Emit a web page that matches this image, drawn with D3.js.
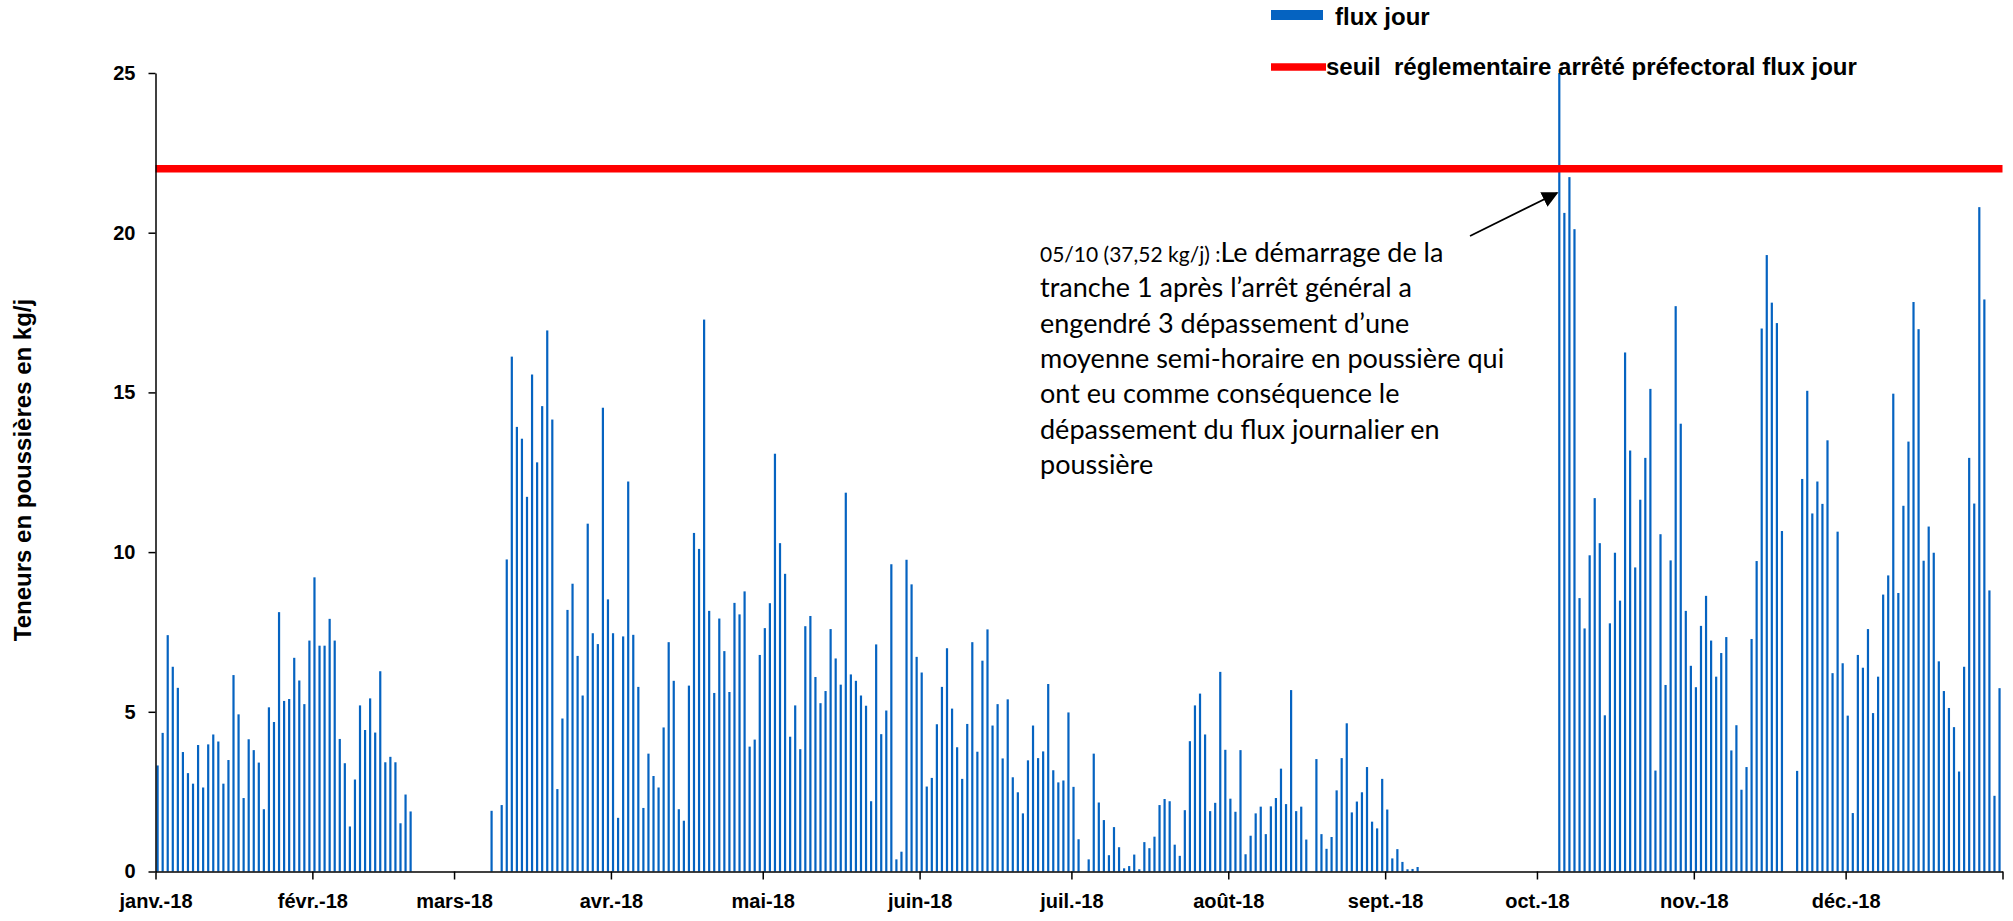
<!DOCTYPE html>
<html>
<head>
<meta charset="utf-8">
<script src="https://cdn.jsdelivr.net/npm/d3@7/dist/d3.min.js"></script>
<style>
  body { margin: 0; background: #fff; }
  .axis text { font-family: "Liberation Sans", Arial, sans-serif; font-weight: bold; font-size: 20px; fill: #000; }
  .axis path, .axis line { stroke: #000; stroke-width: 1.5px; }
</style>
</head>
<body>
<svg id="chart"></svg>
<script>
// daily dust flux (kg/j), one array per month, null = no value
var jan = [3.32,4.34,7.40,6.41,5.75,3.74,3.08,2.75,3.96,2.63,3.98,4.29,4.07,2.75,3.49,6.15,4.92,2.30,4.14,3.80,3.41,1.95,5.14,4.68,8.12,5.34,5.40,6.69,5.98,5.24,7.23];
var feb = [9.21,7.07,7.07,7.91,7.23,4.15,3.39,1.41,2.88,5.20,4.43,5.42,4.35,6.27,3.42,3.59,3.42,1.51,2.41,1.88,null,null,null,null,null,null,null,null];
var mar = [null,null,null,null,null,null,null,1.90,null,2.08,9.77,16.12,13.92,13.55,11.73,15.56,12.81,14.57,16.94,14.15,2.58,4.79,8.19,9.01,6.75,5.51,10.89,7.46,7.12,14.52,8.52];
var apr = [7.46,1.68,7.36,12.21,7.41,5.78,1.99,3.69,2.99,2.63,4.51,7.18,5.97,1.95,1.59,5.82,10.60,10.10,17.28,8.16,5.59,7.92,6.90,5.62,8.41,8.05,8.77,3.91,4.13,6.78];
var may = [7.62,8.40,13.08,10.28,9.32,4.22,5.20,3.83,7.68,8.00,6.09,5.27,5.65,7.59,6.67,5.85,11.86,6.17,5.97,5.51,5.19,2.20,7.11,4.30,5.04,9.62,0.38,0.62,9.76,8.99,6.72];
var jun = [6.23,2.66,2.93,4.61,5.78,6.99,5.10,3.89,2.90,4.62,7.18,3.75,6.60,7.58,4.57,5.24,3.54,5.39,2.95,2.48,1.82,3.48,4.57,3.55,3.76,5.87,3.17,2.79,2.85,4.98];
var jul = [2.65,1.01,null,0.38,3.69,2.16,1.61,0.51,1.39,0.76,0.10,0.17,0.53,0.07,0.92,0.73,1.09,2.08,2.27,2.20,0.84,0.49,1.92,4.08,5.20,5.57,4.29,1.89,2.15,6.25,3.81];
var aug = [2.28,1.87,3.80,0.54,1.12,1.82,2.03,1.17,2.04,2.30,3.22,2.11,5.68,1.89,2.03,1.00,null,3.52,1.17,0.71,1.08,2.54,3.55,4.64,1.85,2.19,2.48,3.27,1.56,1.35,2.90];
var sep = [1.94,0.41,0.70,0.30,0.07,0.08,0.14,null,null,null,null,null,null,null,null,null,null,null,null,null,null,null,null,null,null,null,null,null,null,null];
var oct = [null,null,null,null,37.52,20.62,21.74,20.11,8.56,7.61,9.90,11.69,10.28,4.89,7.77,9.98,8.48,16.25,13.18,9.52,11.64,12.95,15.11,3.16,10.56,5.84,9.74,17.70,14.02,8.16,6.44];
var nov = [5.77,7.69,8.63,7.23,6.10,6.84,7.34,3.79,4.58,2.56,3.27,7.28,9.72,17.00,19.30,17.81,17.17,10.66,null,null,3.15,12.29,15.05,11.21,12.21,11.51,13.50,6.21,10.64,6.52];
var dec = [4.88,1.83,6.78,6.38,7.59,4.96,6.10,8.67,9.27,14.96,8.72,11.45,13.46,17.83,16.98,9.73,10.80,9.98,6.58,5.65,5.12,4.52,3.13,6.41,12.95,11.52,20.80,17.91,8.80,2.37,5.74];

var monthLabels = ["janv.-18","févr.-18","mars-18","avr.-18","mai-18","juin-18","juil.-18","août-18","sept.-18","oct.-18","nov.-18","déc.-18"];
var yTicks = [0, 5, 10, 15, 20, 25];
var seuil = 22;
var seriesName = "flux jour";
var seuilName = "seuil  réglementaire arrêté préfectoral flux jour";
var noteLines = [
  "tranche 1 après l’arrêt général a",
  "engendré 3 dépassement d’une",
  "moyenne semi-horaire en poussière qui",
  "ont eu comme conséquence le",
  "dépassement du flux journalier en",
  "poussière"
];

var width = 2013, height = 921;
var margin = {top: 73, right: 10, bottom: 49.5, left: 155.5};

var months = [jan, feb, mar, apr, may, jun, jul, aug, sep, oct, nov, dec];
var days = [];
months.forEach(function(m, mi) {
  m.forEach(function(v, di) {
    if (v != null) days.push({date: new Date(Date.UTC(2018, mi, di + 1)), value: v});
  });
});

var svg = d3.select("#chart")
    .attr("width", width)
    .attr("height", height)
    .style("background", "#fff");

var x = d3.scaleUtc()
    .domain([new Date(Date.UTC(2018, 0, 1)), new Date(Date.UTC(2019, 0, 1))])
    .range([margin.left, 2002.5]);
var y = d3.scaleLinear().domain([0, 25]).range([height - margin.bottom, margin.top]);

// bars
svg.append("g").selectAll("rect").data(days).enter().append("rect")
    .attr("x", function(d) { return x(d.date) + 1; })
    .attr("width", 2.2)
    .attr("y", function(d) { return y(Math.min(d.value, 25)); })
    .attr("height", function(d) { return y(0) - y(Math.min(d.value, 25)); })
    .attr("fill", "#0563c1");

// threshold
svg.append("line")
    .attr("x1", x.range()[0]).attr("x2", x.range()[1])
    .attr("y1", y(seuil)).attr("y2", y(seuil))
    .attr("stroke", "#ff0000").attr("stroke-width", 7.5);

// axes
var monthStarts = d3.utcMonth.range(new Date(Date.UTC(2018, 0, 1)), new Date(Date.UTC(2019, 0, 2)));
svg.append("g")
    .attr("class", "axis")
    .attr("transform", "translate(0," + y(0) + ")")
    .call(d3.axisBottom(x).tickValues(monthStarts)
        .tickFormat(function(d, i) { return monthLabels[i] || ""; })
        .tickSizeInner(8).tickSizeOuter(0).tickPadding(14));

svg.append("g")
    .attr("class", "axis")
    .attr("transform", "translate(" + margin.left + ",0)")
    .call(d3.axisLeft(y).tickValues(yTicks).tickSizeInner(7).tickSizeOuter(0).tickPadding(13));

svg.append("text")
    .attr("transform", "translate(31," + 470 + ")rotate(-90)")
    .attr("text-anchor", "middle")
    .style("font-family", "'Liberation Sans', Arial, sans-serif")
    .style("font-weight", "bold")
    .style("font-size", "24px")
    .text("Teneurs en poussières en kg/j");

// legend
var legend = svg.append("g")
    .style("font-family", "'Liberation Sans', Arial, sans-serif")
    .style("font-weight", "bold")
    .style("font-size", "24px")
    .style("white-space", "pre");
legend.append("rect").attr("x", 1271).attr("y", 10).attr("width", 52).attr("height", 10).attr("fill", "#0563c1");
legend.append("text").attr("x", 1335).attr("y", 17).attr("dy", "0.35em").text(seriesName);
legend.append("line").attr("x1", 1271).attr("x2", 1326).attr("y1", 67).attr("y2", 67)
    .attr("stroke", "#ff0000").attr("stroke-width", 7.5);
legend.append("text").attr("x", 1326).attr("y", 67).attr("dy", "0.35em")
    .attr("xml:space", "preserve").text(seuilName);

// annotation
svg.append("defs").append("marker")
    .attr("id", "arrow")
    .attr("viewBox", "0 0 10 10")
    .attr("refX", 9).attr("refY", 5)
    .attr("markerWidth", 9).attr("markerHeight", 9)
    .attr("orient", "auto")
    .append("path").attr("d", "M0,0L10,5L0,10z").attr("fill", "#000");

svg.append("line")
    .attr("x1", 1470).attr("y1", 236)
    .attr("x2", 1557).attr("y2", 193)
    .attr("stroke", "#000").attr("stroke-width", 1.8)
    .attr("marker-end", "url(#arrow)");

var note = svg.append("text")
    .attr("x", 1040).attr("y", 262)
    .style("font-family", "Lato, 'Open Sans', sans-serif")
    .style("font-size", "27px")
    .attr("fill", "#000");
var first = note.append("tspan").attr("x", 1040);
first.append("tspan").style("font-size", "21px").text("05/10 (37,52 kg/j) :");
first.append("tspan").text("Le démarrage de la");
noteLines.forEach(function(l) {
  note.append("tspan").attr("x", 1040).attr("dy", 35.3).text(l);
});
</script>
</body>
</html>
